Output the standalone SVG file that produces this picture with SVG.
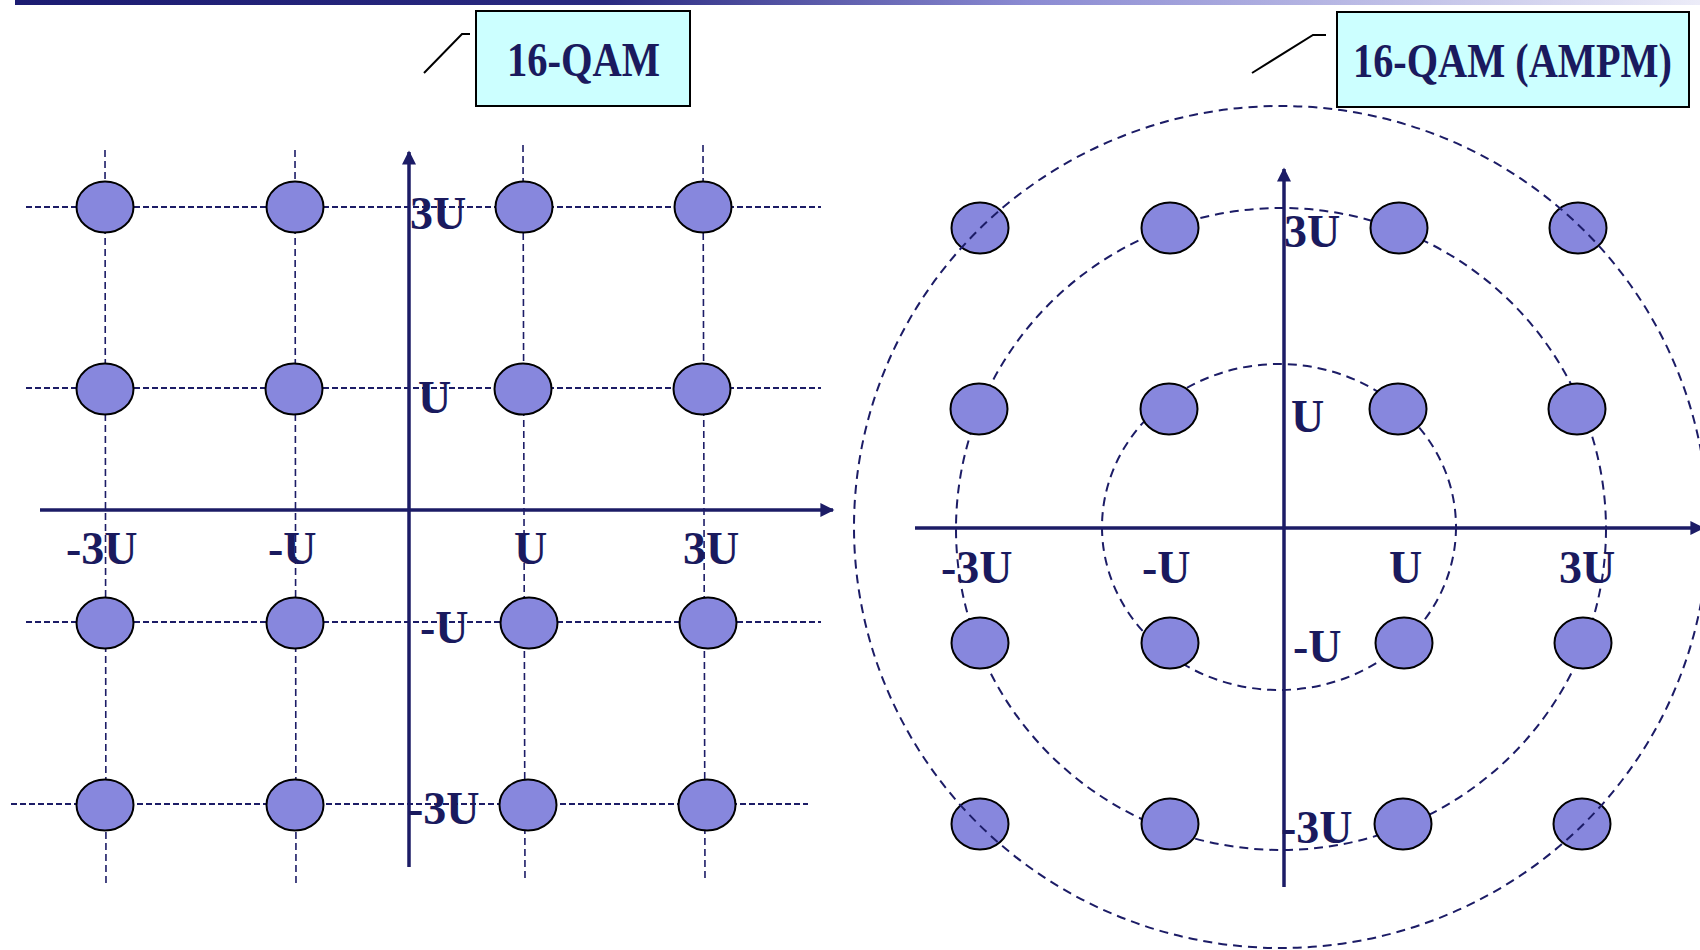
<svg xmlns="http://www.w3.org/2000/svg" width="1700" height="950" viewBox="0 0 1700 950">
<defs>
<linearGradient id="topbar" x1="0" y1="0" x2="1" y2="0">
<stop offset="0" stop-color="#1c1c72"/>
<stop offset="0.35" stop-color="#2a2a80"/>
<stop offset="0.6" stop-color="#8a8ad2"/>
<stop offset="1" stop-color="#ececf8"/>
</linearGradient>
<marker id="arr" viewBox="0 0 10 10" refX="9" refY="5" markerWidth="4.5" markerHeight="4" orient="auto" markerUnits="strokeWidth">
<path d="M0,0 L10,5 L0,10 Z" fill="#1c1c66"/>
</marker>
<style>
.pt{fill:#8787dd;stroke:#000;stroke-width:2}
.ax{stroke:#1c1c66;stroke-width:3.5;fill:none}
.gh{stroke:#1c1c66;stroke-width:2;stroke-dasharray:6 3;fill:none}
.gv{stroke:#1c1c66;stroke-width:1.6;stroke-dasharray:7 4;fill:none}
.ring{stroke:#1c1c66;stroke-width:2;stroke-dasharray:9 6;fill:none}
.lbl{font-family:"Liberation Serif","Times New Roman",serif;font-weight:bold;font-size:46px;fill:#1a1a5e}
.title{font-family:"Liberation Serif","Times New Roman",serif;font-weight:bold;font-size:48px;fill:#1a1a5e}
.box{fill:#ccffff;stroke:#000;stroke-width:2}
.lead{stroke:#000;stroke-width:2;fill:none}
</style>
</defs>
<rect x="15" y="0" width="1685" height="5" fill="url(#topbar)"/>

<g id="connectors">
<line class="gh" x1="26" y1="207" x2="821" y2="207"/>
<line class="gh" x1="26" y1="388" x2="821" y2="388"/>
<line class="gh" x1="26" y1="622" x2="821" y2="622"/>
<line class="gh" x1="11" y1="804" x2="808" y2="804"/>
<line class="gv" x1="105" y1="150" x2="106" y2="887"/>
<line class="gv" x1="295" y1="150" x2="296" y2="887"/>
<line class="gv" x1="523" y1="145" x2="525" y2="882"/>
<line class="gv" x1="703" y1="145" x2="705" y2="882"/>
<line class="ax" x1="40" y1="510" x2="833" y2="510" marker-end="url(#arr)"/>
<line class="ax" x1="409" y1="867" x2="409" y2="152" marker-end="url(#arr)"/>
<ellipse class="ring" cx="1279" cy="527" rx="177" ry="163"/>
<ellipse class="ring" cx="1281" cy="529" rx="325" ry="321"/>
<line class="ax" x1="915" y1="528" x2="1703" y2="528" marker-end="url(#arr)"/>
<line class="ax" x1="1284" y1="887" x2="1284" y2="169" marker-end="url(#arr)"/>
</g>

<g id="title-16qam">
<polyline class="lead" points="424,73 462,34 470,34"/>
<rect class="box" x="476" y="11" width="214" height="95"/>
<text class="title" transform="translate(507,76) scale(0.845,1)">16-QAM</text>
</g>
<g id="title-16qam-ampm">
<polyline class="lead" points="1252,73 1313,35 1326,35"/>
<rect class="box" x="1337" y="12" width="352" height="95"/>
<text class="title" transform="translate(1353,77) scale(0.84,1)">16-QAM (AMPM)</text>
</g>

<g id="left-points">
<g id="L11"><ellipse class="pt" cx="105" cy="207" rx="28.5" ry="25.5"/></g>
<g id="L12"><ellipse class="pt" cx="295" cy="207" rx="28.5" ry="25.5"/></g>
<g id="L13"><ellipse class="pt" cx="524" cy="207" rx="28.5" ry="25.5"/></g>
<g id="L14"><ellipse class="pt" cx="703" cy="207" rx="28.5" ry="25.5"/></g>
<g id="L21"><ellipse class="pt" cx="105" cy="389" rx="28.5" ry="25.5"/></g>
<g id="L22"><ellipse class="pt" cx="294" cy="389" rx="28.5" ry="25.5"/></g>
<g id="L23"><ellipse class="pt" cx="523" cy="389" rx="28.5" ry="25.5"/></g>
<g id="L24"><ellipse class="pt" cx="702" cy="389" rx="28.5" ry="25.5"/></g>
<g id="L31"><ellipse class="pt" cx="105" cy="623" rx="28.5" ry="25.5"/></g>
<g id="L32"><ellipse class="pt" cx="295" cy="623" rx="28.5" ry="25.5"/></g>
<g id="L33"><ellipse class="pt" cx="529" cy="623" rx="28.5" ry="25.5"/></g>
<g id="L34"><ellipse class="pt" cx="708" cy="623" rx="28.5" ry="25.5"/></g>
<g id="L41"><ellipse class="pt" cx="105" cy="805" rx="28.5" ry="25.5"/></g>
<g id="L42"><ellipse class="pt" cx="295" cy="805" rx="28.5" ry="25.5"/></g>
<g id="L43"><ellipse class="pt" cx="528" cy="805" rx="28.5" ry="25.5"/></g>
<g id="L44"><ellipse class="pt" cx="707" cy="805" rx="28.5" ry="25.5"/></g>
</g>

<g id="right-points">
<g id="R11"><ellipse class="pt" cx="980" cy="228" rx="28.5" ry="25.5"/></g>
<g id="R12"><ellipse class="pt" cx="1170" cy="228" rx="28.5" ry="25.5"/></g>
<g id="R13"><ellipse class="pt" cx="1399" cy="228" rx="28.5" ry="25.5"/></g>
<g id="R14"><ellipse class="pt" cx="1578" cy="228" rx="28.5" ry="25.5"/></g>
<g id="R21"><ellipse class="pt" cx="979" cy="409" rx="28.5" ry="25.5"/></g>
<g id="R22"><ellipse class="pt" cx="1169" cy="409" rx="28.5" ry="25.5"/></g>
<g id="R23"><ellipse class="pt" cx="1398" cy="409" rx="28.5" ry="25.5"/></g>
<g id="R24"><ellipse class="pt" cx="1577" cy="409" rx="28.5" ry="25.5"/></g>
<g id="R31"><ellipse class="pt" cx="980" cy="643" rx="28.5" ry="25.5"/></g>
<g id="R32"><ellipse class="pt" cx="1170" cy="643" rx="28.5" ry="25.5"/></g>
<g id="R33"><ellipse class="pt" cx="1404" cy="643" rx="28.5" ry="25.5"/></g>
<g id="R34"><ellipse class="pt" cx="1583" cy="643" rx="28.5" ry="25.5"/></g>
<g id="R41"><ellipse class="pt" cx="980" cy="824" rx="28.5" ry="25.5"/></g>
<g id="R42"><ellipse class="pt" cx="1170" cy="824" rx="28.5" ry="25.5"/></g>
<g id="R43"><ellipse class="pt" cx="1403" cy="824" rx="28.5" ry="25.5"/></g>
<g id="R44"><ellipse class="pt" cx="1582" cy="824" rx="28.5" ry="25.5"/></g>
</g>

<g id="outer-ring">
<ellipse class="ring" cx="1281" cy="527" rx="427" ry="421"/>
</g>

<g id="labels">
<text class="lbl" x="410" y="229">3U</text>
<text class="lbl" x="418" y="413">U</text>
<text class="lbl" x="66" y="564">-3U</text>
<text class="lbl" x="268" y="564">-U</text>
<text class="lbl" x="514" y="564">U</text>
<text class="lbl" x="683" y="564">3U</text>
<text class="lbl" x="420" y="643">-U</text>
<text class="lbl" x="408" y="824">-3U</text>
<text class="lbl" x="1284" y="247">3U</text>
<text class="lbl" x="1291" y="432">U</text>
<text class="lbl" x="941" y="583">-3U</text>
<text class="lbl" x="1142" y="583">-U</text>
<text class="lbl" x="1389" y="583">U</text>
<text class="lbl" x="1559" y="583">3U</text>
<text class="lbl" x="1293" y="662">-U</text>
<text class="lbl" x="1281" y="843">-3U</text>
</g>
</svg>
